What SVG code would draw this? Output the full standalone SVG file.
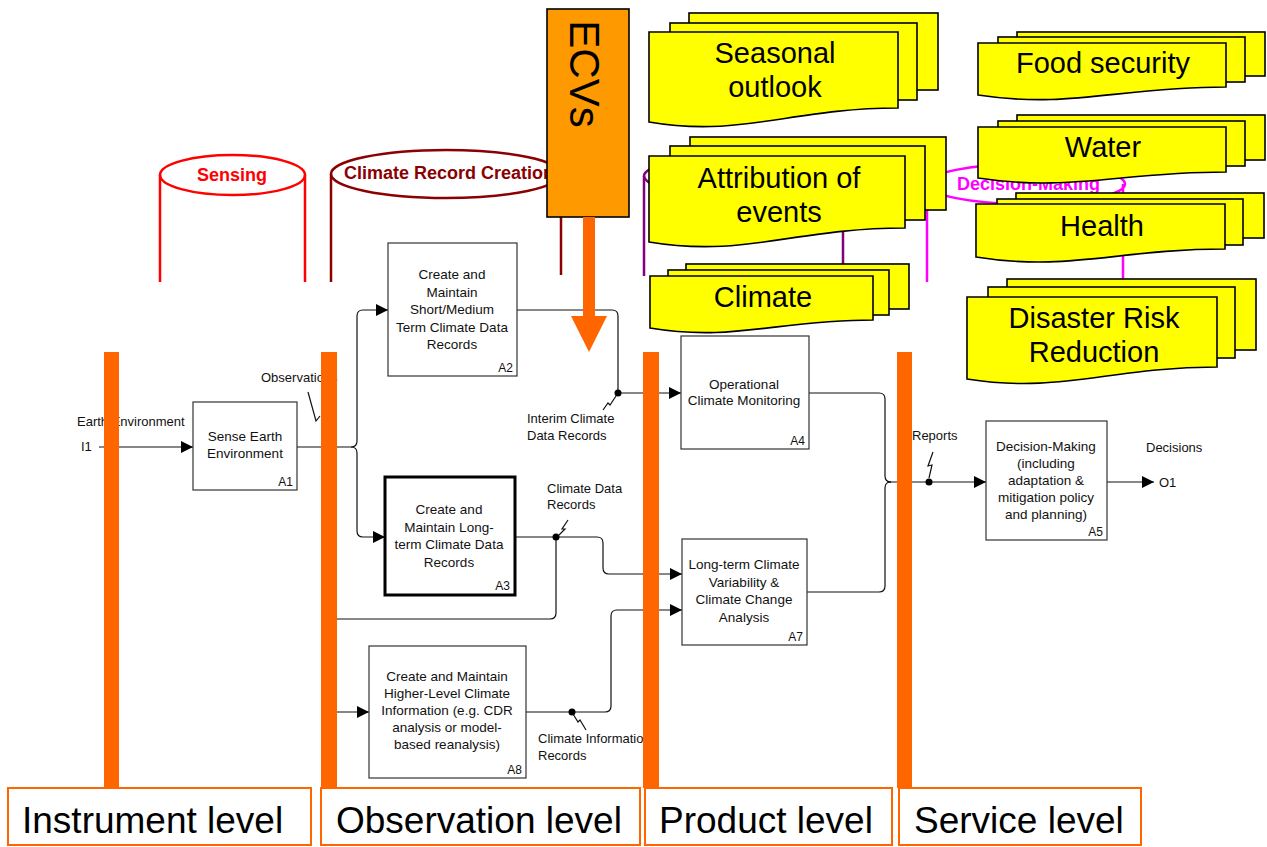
<svg xmlns="http://www.w3.org/2000/svg" width="1267" height="847" viewBox="0 0 1267 847">
<style>
text{font-family:"Liberation Sans",Arial,sans-serif}
.bx{fill:#fff;stroke:#333;stroke-width:1.2}
.bt{font-size:13.5px;fill:#111;text-anchor:middle}
.an{font-size:12px;fill:#111;text-anchor:end}
.lb{font-size:13px;fill:#111}
.cn{fill:none;stroke:#111;stroke-width:1.2}
.bar{fill:#ff6600}
.lvl{fill:#fff;stroke:#ff6600;stroke-width:2}
.lt{font-size:37px;fill:#000}
.doc{fill:#ffff00;stroke:#000;stroke-width:1.6}
.dt{font-size:29px;fill:#000;text-anchor:middle}
.cyl{fill:none;stroke-width:2.5}
.ct{font-weight:bold;font-size:18px}
</style>
<defs>
<marker id="ah" markerUnits="userSpaceOnUse" markerWidth="13" markerHeight="12" refX="12" refY="6" orient="auto">
<path d="M0,0 L12,6 L0,12 Z" fill="#000"/>
</marker>
</defs>

<!-- cylinders -->
<g id="cyl-sensing">
<ellipse class="cyl" cx="232.5" cy="175" rx="72.5" ry="20" stroke="#ff0000"/>
<path class="cyl" d="M160,175 V282 M305,175 V282" stroke="#ff0000"/>
<text class="ct" x="232" y="181" fill="#ff0000" text-anchor="middle" font-size="17">Sensing</text>
</g>
<g id="cyl-crc">
<ellipse class="cyl" cx="446" cy="174" rx="115" ry="24" stroke="#8b0000"/>
<path class="cyl" d="M331,174 V282 M561,174 V275" stroke="#8b0000"/>
<text class="ct" x="344" y="179" fill="#8b0000">Climate Record Creation</text>
</g>
<g id="cyl-product">
<ellipse class="cyl" cx="743.5" cy="176" rx="99.5" ry="20" stroke="#800080" stroke-width="2"/>
<path class="cyl" d="M644,176 V276 M843,176 V276" stroke="#800080" stroke-width="2"/>
</g>
<g id="cyl-decision">
<ellipse class="cyl" cx="1026" cy="184" rx="99" ry="20" stroke="#ff00ff" stroke-width="2"/>
<path class="cyl" d="M927,184 V282 M1123,184 V282" stroke="#ff00ff" stroke-width="2"/>
<text class="ct" x="957" y="190" fill="#ff00ff" font-size="16.5">Decision-Making</text>
</g>

<!-- connectors -->
<g id="connectors">
<path class="cn" d="M99,447 H193" marker-end="url(#ah)"/>
<path class="cn" d="M297,447 H351 Q357,447 357,441 V316 Q357,310 363,310 H388" marker-end="url(#ah)"/>
<path class="cn" d="M351,447 Q357,447 357,453 V531 Q357,537 363,537 H385" marker-end="url(#ah)"/>
<path class="cn" d="M517,310 H612 Q618,310 618,316 V393 H681" marker-end="url(#ah)"/>
<path class="cn" d="M515,537 H597 Q603,537 603,543 V568 Q603,574 609,574 H682" marker-end="url(#ah)"/>
<path class="cn" d="M556,537 V613 Q556,619 550,619 H328 Q322,619 322,625 V706 Q322,712 328,712 H369" marker-end="url(#ah)"/>
<path class="cn" d="M526,712 H605 Q611,712 611,706 V616 Q611,610 617,610 H682" marker-end="url(#ah)"/>
<path class="cn" d="M809,393 H879 Q885,393 885,399 V476 Q885,482 891,482"/>
<path class="cn" d="M807,592 H879 Q885,592 885,586 V488 Q885,482 891,482"/>
<path class="cn" d="M887,482 H986" marker-end="url(#ah)"/>
<path class="cn" d="M1107,482 H1154" marker-end="url(#ah)"/>
<circle cx="618" cy="393" r="3.5" fill="#000"/>
<circle cx="556" cy="537" r="3.5" fill="#000"/>
<circle cx="572" cy="712" r="3.5" fill="#000"/>
<circle cx="929" cy="482" r="3.5" fill="#000"/>
<path class="cn" d="M308,392 L316,421 L320,416"/>
<path class="cn" d="M603,410 L608,403 L610,405 L616,396"/>
<path class="cn" d="M568,520 L562,529 L565,529 L559,535"/>
<path class="cn" d="M573,714 L578,722 L580,720 L586,730"/>
<path class="cn" d="M933,452 L928,466 L932,465 L929,478"/>
</g>

<!-- labels -->
<g id="labels">
<text class="lb" x="77" y="426">Earth Environment</text>
<text class="lb" x="81" y="451">I1</text>
<text class="lb" x="261" y="382">Observations</text>
<text class="lb" x="527" y="423">Interim Climate</text>
<text class="lb" x="527" y="440">Data Records</text>
<text class="lb" x="547" y="493">Climate Data</text>
<text class="lb" x="547" y="509">Records</text>
<text class="lb" x="538" y="743">Climate Information</text>
<text class="lb" x="538" y="760">Records</text>
<text class="lb" x="912" y="440">Reports</text>
<text class="lb" x="1146" y="452">Decisions</text>
<text class="lb" x="1159" y="487">O1</text>
</g>

<!-- activity boxes -->
<g id="A1">
<rect class="bx" x="193" y="402" width="104" height="88"/>
<text class="bt" x="245" y="441">Sense Earth</text>
<text class="bt" x="245" y="457.5">Environment</text>
<text class="an" x="293" y="486">A1</text>
</g>
<g id="A2">
<rect class="bx" x="388" y="243" width="129" height="133"/>
<text class="bt" x="452" y="279">Create and</text>
<text class="bt" x="452" y="296.5">Maintain</text>
<text class="bt" x="452" y="314">Short/Medium</text>
<text class="bt" x="452" y="331.5">Term Climate Data</text>
<text class="bt" x="452" y="349">Records</text>
<text class="an" x="513" y="372">A2</text>
</g>
<g id="A3">
<rect x="385" y="477" width="130" height="118" fill="#fff" stroke="#000" stroke-width="3"/>
<text class="bt" x="449" y="514">Create and</text>
<text class="bt" x="449" y="531.5">Maintain Long-</text>
<text class="bt" x="449" y="549">term Climate Data</text>
<text class="bt" x="449" y="566.5">Records</text>
<text class="an" x="510" y="590">A3</text>
</g>
<g id="A8">
<rect class="bx" x="369" y="646" width="157" height="132"/>
<text class="bt" x="447" y="681">Create and Maintain</text>
<text class="bt" x="447" y="698">Higher-Level Climate</text>
<text class="bt" x="447" y="715">Information (e.g. CDR</text>
<text class="bt" x="447" y="732">analysis or model-</text>
<text class="bt" x="447" y="749">based reanalysis)</text>
<text class="an" x="522" y="774">A8</text>
</g>
<g id="A4">
<rect class="bx" x="681" y="336" width="128" height="113"/>
<text class="bt" x="744" y="389">Operational</text>
<text class="bt" x="744" y="405">Climate Monitoring</text>
<text class="an" x="805" y="445">A4</text>
</g>
<g id="A7">
<rect class="bx" x="682" y="539" width="125" height="106"/>
<text class="bt" x="744" y="569">Long-term Climate</text>
<text class="bt" x="744" y="586.5">Variability &amp;</text>
<text class="bt" x="744" y="604">Climate Change</text>
<text class="bt" x="744" y="621.5">Analysis</text>
<text class="an" x="803" y="641">A7</text>
</g>
<g id="A5">
<rect class="bx" x="986" y="421" width="121" height="119"/>
<text class="bt" x="1046" y="451">Decision-Making</text>
<text class="bt" x="1046" y="468">(including</text>
<text class="bt" x="1046" y="485">adaptation &amp;</text>
<text class="bt" x="1046" y="502">mitigation policy</text>
<text class="bt" x="1046" y="519">and planning)</text>
<text class="an" x="1103" y="536">A5</text>
</g>

<!-- level bars -->
<g id="bars">
<rect class="bar" x="104" y="352" width="15" height="436"/>
<rect class="bar" x="321" y="352" width="16" height="436"/>
<rect class="bar" x="643" y="352" width="16" height="436"/>
<rect class="bar" x="897" y="352" width="15" height="436"/>
</g>
<g id="lvl-instrument">
<rect class="lvl" x="8" y="788" width="303" height="57"/>
<text class="lt" x="22" y="833">Instrument level</text>
</g>
<g id="lvl-observation">
<rect class="lvl" x="321" y="788" width="319" height="57"/>
<text class="lt" x="336" y="833">Observation level</text>
</g>
<g id="lvl-product">
<rect class="lvl" x="645" y="788" width="247" height="57"/>
<text class="lt" x="659" y="833">Product level</text>
</g>
<g id="lvl-service">
<rect class="lvl" x="899" y="788" width="242" height="57"/>
<text class="lt" x="914" y="833">Service level</text>
</g>

<!-- yellow documents -->
<g id="doc-seasonal">
<rect class="doc" x="689" y="13" width="249" height="77"/>
<rect class="doc" x="670" y="23" width="247" height="77"/>
<path class="doc" d="M649,32 H898 V108 C791,108 741,138 649,122 Z"/>
<text class="dt" x="775" y="63">Seasonal</text>
<text class="dt" x="775" y="97">outlook</text>
</g>
<g id="doc-attribution">
<rect class="doc" x="690" y="137" width="256" height="73"/>
<rect class="doc" x="670" y="146" width="255" height="74"/>
<path class="doc" d="M649,156 H905 V228 C795,228 744,258 649,242 Z"/>
<text class="dt" x="779" y="188">Attribution of</text>
<text class="dt" x="779" y="222">events</text>
</g>
<g id="doc-climate">
<rect class="doc" x="686" y="264" width="223" height="45"/>
<rect class="doc" x="668" y="270" width="221" height="45"/>
<path class="doc" d="M650,276 H873 V320 C777,320 733,342 650,328 Z"/>
<text class="dt" x="763" y="307">Climate</text>
</g>
<g id="doc-food">
<rect class="doc" x="1017" y="32" width="248" height="44"/>
<rect class="doc" x="998" y="37" width="247" height="45"/>
<path class="doc" d="M978,43 H1226 V87 C1119,87 1070,109 978,95 Z"/>
<text class="dt" x="1103" y="73">Food security</text>
</g>
<g id="doc-water">
<rect class="doc" x="1017" y="115" width="248" height="45"/>
<rect class="doc" x="998" y="121" width="247" height="45"/>
<path class="doc" d="M978,127 H1226 V172 C1119,172 1070,192 978,178 Z"/>
<text class="dt" x="1103" y="157">Water</text>
</g>
<g id="doc-health">
<rect class="doc" x="1016" y="193" width="248" height="45"/>
<rect class="doc" x="997" y="199" width="246" height="46"/>
<path class="doc" d="M976,204 H1225 V249 C1118,249 1068,272 976,257 Z"/>
<text class="dt" x="1102" y="236">Health</text>
</g>
<g id="doc-disaster">
<rect class="doc" x="1007" y="279" width="249" height="71"/>
<rect class="doc" x="988" y="287" width="247" height="71"/>
<path class="doc" d="M967,297 H1217 V367 C1110,367 1060,394 967,379 Z"/>
<text class="dt" x="1094" y="328">Disaster Risk</text>
<text class="dt" x="1094" y="362">Reduction</text>
</g>

<!-- ECVs -->
<g id="ecvs">
<rect x="547" y="9" width="82" height="208" fill="#ff9900" stroke="#000" stroke-width="1.6"/>
<text transform="translate(570,74) rotate(90)" x="0" y="0" text-anchor="middle" font-size="42" fill="#000">ECVs</text>
<path d="M583,217 H595 V316 H607 L589,352 L571,316 H583 Z" fill="#ff6600"/>
</g>
</svg>
